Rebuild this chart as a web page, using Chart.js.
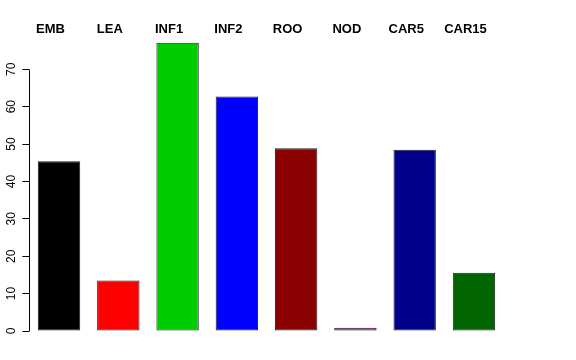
<!DOCTYPE html>
<html>
<head>
<meta charset="utf-8">
<script src="https://cdn.jsdelivr.net/npm/chart.js@4/dist/chart.umd.min.js"></script>
<style>
html,body{margin:0;padding:0;background:#fff;}
#wrap{width:576px;height:360px;}
</style>
</head>
<body>
<div id="wrap"><canvas id="c" width="576" height="360"></canvas></div>
<script>
const categories = ['EMB','LEA','INF1','INF2','ROO','NOD','CAR5','CAR15'];
const values = [45.4, 13.5, 77.1, 62.7, 48.9, 0.85, 48.5, 15.6];
const barColors = ['#000000','#FF0000','#00CD00','#0000FF','#8B0000','#CD00CD','#00008B','#006400'];
const yTickValues = [0,10,20,30,40,50,60,70];

const axisLine = {
  id: 'axisLine',
  afterDraw(chart) {
    const y = chart.scales.y;
    const ctx = chart.ctx;
    const x = Math.round(y.right) + 0.5;
    ctx.save();
    ctx.strokeStyle = '#000';
    ctx.lineWidth = 1;
    ctx.beginPath();
    ctx.moveTo(x, Math.round(y.getPixelForValue(yTickValues[0])) + 0.5);
    ctx.lineTo(x, Math.round(y.getPixelForValue(yTickValues[yTickValues.length-1])) + 0.5);
    ctx.stroke();
    ctx.restore();
  }
};

new Chart(document.getElementById('c'), {
  type: 'bar',
  data: {
    labels: categories,
    datasets: [{
      data: values,
      backgroundColor: barColors,
      borderColor: '#222',
      borderWidth: 1,
      borderSkipped: false,
      barPercentage: 0.715,
      categoryPercentage: 1.0
    }]
  },
  options: {
    responsive: false,
    animation: false,
    devicePixelRatio: 1,
    layout: { padding: { left: 0, right: 72.4, top: 0, bottom: 29 } },
    plugins: { legend: { display: false }, tooltip: { enabled: false } },
    scales: {
      x: {
        position: 'top',
        grid: { display: false, drawTicks: false },
        border: { display: false },
        ticks: {
          color: '#000',
          font: { family: 'Liberation Sans', size: 13, weight: 'bold' },
          labelOffset: -8.5,
          padding: 2,
          maxRotation: 0,
          autoSkip: false
        },
        afterFit(s) { s.height = 39.4; }
      },
      y: {
        min: 0,
        max: 78,
        grid: { drawOnChartArea: false, drawTicks: true, tickLength: 7, color: '#000', lineWidth: 1 },
        border: { display: false },
        afterBuildTicks(s) { s.ticks = yTickValues.map(v => ({ value: v })); },
        ticks: {
          color: '#000',
          font: { family: 'Liberation Sans', size: 12 },
          minRotation: 90,
          maxRotation: 90,
          crossAlign: 'center',
          padding: 4.2
        },
        afterFit(s) { s.width = 29.4; }
      }
    }
  },
  plugins: [axisLine]
});
</script>
</body>
</html>
